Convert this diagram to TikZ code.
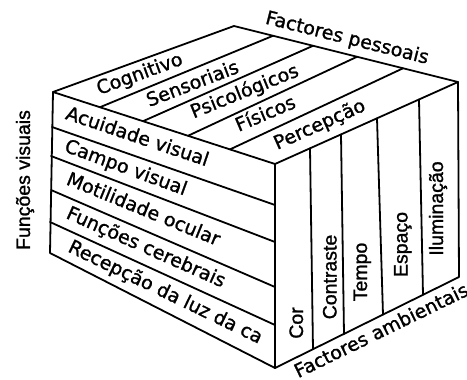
\documentclass[tikz,border=0pt]{standalone}
\usepackage{fontspec}
\setmainfont{DejaVu Sans}[FakeBold=1.2]
\newfontfamily\vfont{Liberation Sans}[FakeBold=1.2]
\tikzset{
  edge/.style={line width=1.8pt, line join=round, line cap=round},
  slab/.style={font=\fontsize{19}{20}\selectfont, inner sep=0pt, text height=13.8pt, text depth=4pt},
  vlab/.style={font=\vfont\fontsize{19.5}{21}\selectfont, inner sep=0pt, text height=14pt, text depth=4pt, rotate=90},
}
\begin{document}
\begin{tikzpicture}[x=1pt,y=1pt]
\useasboundingbox (0,0) rectangle (467,-380);
% cube corners
\coordinate (A) at (53,-92);
\coordinate (B) at (234,-26);
\coordinate (C) at (458,-82);
\coordinate (D) at (275,-164);
\coordinate (E) at (275,-368);
\coordinate (F) at (50,-253);
\coordinate (G) at (459,-277);
% left face row dividers
\coordinate (L1) at (52,-127);  \coordinate (R1) at (275,-205);
\coordinate (L2) at (51,-156);  \coordinate (R2) at (275,-242);
\coordinate (L3) at (51,-190);  \coordinate (R3) at (275,-287);
\coordinate (L4) at (50,-222);  \coordinate (R4) at (275,-325);
% top face dividers
\coordinate (P1) at (100,-107.2); \coordinate (Q1) at (273,-35.8);
\coordinate (P2) at (143,-121.2); \coordinate (Q2) at (313,-45.8);
\coordinate (P3) at (188,-135.8); \coordinate (Q3) at (357,-56.8);
\coordinate (P4) at (230,-149.4); \coordinate (Q4) at (403,-68.3);
% right face dividers
\coordinate (U1) at (310,-148.3); \coordinate (V1) at (313,-349.2);
\coordinate (U2) at (341,-134.4); \coordinate (V2) at (344,-333.9);
\coordinate (U3) at (377,-118.3); \coordinate (V3) at (383,-314.6);
\coordinate (U4) at (419,-99.5);  \coordinate (V4) at (423,-294.8);

\draw[edge] (A) -- (B) -- (C) -- (G) -- (E) -- (F) -- cycle;
\draw[edge] (A) -- (D) -- (C);
\draw[edge] (D) -- (E);
\foreach \i in {1,2,3,4} {
  \draw[edge] (L\i) -- (R\i);
  \draw[edge] (P\i) -- (Q\i);
  \draw[edge] (U\i) -- (V\i);
}

% top face labels
\node[slab, rotate=20] (cog) at (140,-75) {Cognitivo};
\node[slab, rotate=21] (sen) at (193,-85) {Sensoriais};
\node[slab, rotate=22] (psi) at (245,-92.5) {Psicológicos};
\node[slab, rotate=23] (fis) at (266,-115) {Físicos};
\node[slab, rotate=24] (per) at (320,-125.5) {Percepção};

% left face labels
\node[slab, rotate=-18.6, anchor=west] (acu) at (66,-114) {Acuidade visual};
\node[slab, rotate=-20.2, anchor=west] (cam) at (65,-146.5) {Campo visual};
\node[slab, rotate=-22.2, anchor=west] (mot) at (67,-179.5) {Motilidade ocular};
\node[slab, rotate=-24, anchor=west] (fun) at (67,-213.3) {Funções cerebrais};
\node[slab, rotate=-25.8, anchor=west] (rec) at (69,-246.7) {Recepção da luz da ca};

% right face labels
\node[vlab] (cor) at (298,-323) {Cor};
\node[vlab] (con) at (331.5,-277) {Contraste};
\node[vlab] (tem) at (362,-272) {Tempo};
\node[vlab] (esp) at (402.5,-244.5) {Espaço};
\node[vlab] (ilu) at (438,-208.5) {Iluminação};

% axis titles
\node[slab, rotate=-14] (fp) at (347,-39) {Factores pessoais};
\node[slab, rotate=26] (fa) at (382,-332) {Factores ambientais};
\node[vlab] (fv) at (25,-180) {Funções visuais};
\end{tikzpicture}
\end{document}
